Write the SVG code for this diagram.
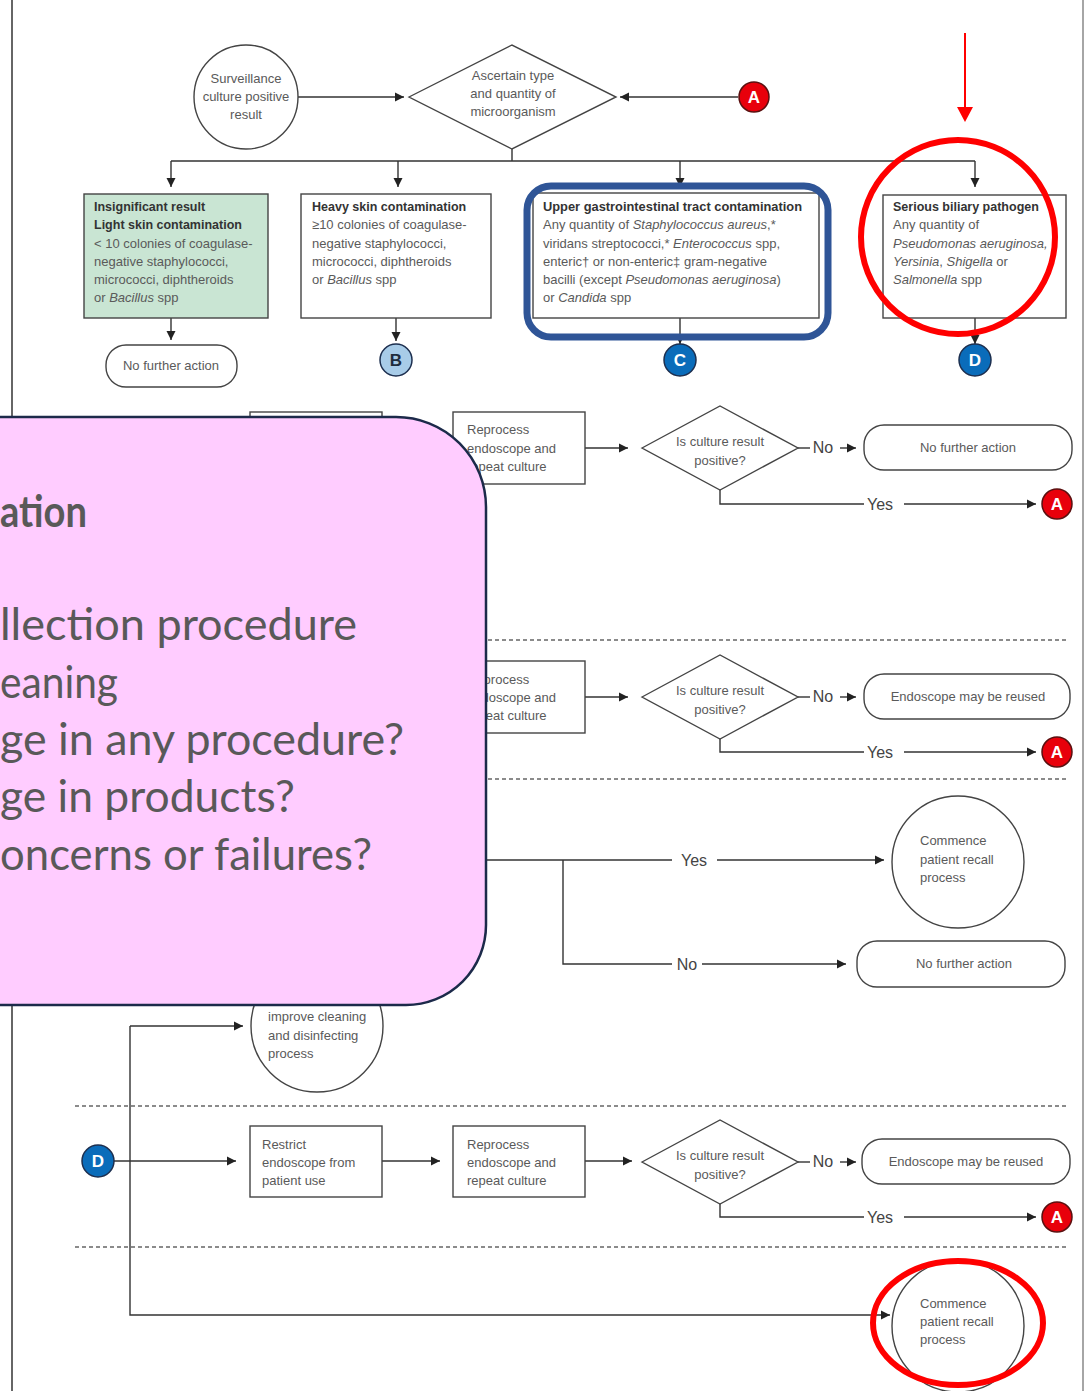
<svg xmlns="http://www.w3.org/2000/svg" width="1089" height="1391" viewBox="0 0 1089 1391">
  <defs>
    <marker id="arr" viewBox="0 0 10 10" refX="10" refY="5" markerWidth="9" markerHeight="10" markerUnits="userSpaceOnUse" orient="auto">
      <path d="M0,0 L10,5 L0,10 z" fill="#222"/>
    </marker>
    <style>
      .ln { fill: none; stroke: #333; stroke-width: 1.4; }
      .box { fill: #fff; stroke: #444; stroke-width: 1.4; }
      .dash { fill: none; stroke: #666; stroke-width: 1.3; stroke-dasharray: 4 3; }
      .t { font-family: "Liberation Sans", Arial, sans-serif; font-size: 13px; fill: #5a5a5a; }
      .tb { font-family: "Liberation Sans", Arial, sans-serif; font-size: 12.5px; font-weight: bold; fill: #333; }
      .tc { font-family: "Liberation Sans", Arial, sans-serif; font-size: 13px; fill: #5a5a5a; text-anchor: middle; }
      .lbl { font-family: "Liberation Sans", Arial, sans-serif; font-size: 16px; fill: #444; text-anchor: middle; }
      .i { font-style: italic; }
      .letter { font-family: "Liberation Sans", Arial, sans-serif; font-size: 17px; font-weight: bold; text-anchor: middle; }
      .red { fill: #e8000b; stroke: #5a1010; stroke-width: 1.5; }
      .blue { fill: #0a6cba; stroke: #1d2f4f; stroke-width: 1.5; }
      .light { fill: #a8cce8; stroke: #1d2f4f; stroke-width: 1.5; }
      .big { font-family: Lato, "Open Sans", sans-serif; font-size: 44px; fill: #595959; }
    </style>
  </defs>

  <rect x="0" y="0" width="1089" height="1391" fill="#fff"/>

  <!-- page frame -->
  <line x1="12" y1="0" x2="12" y2="1391" stroke="#333" stroke-width="1.5"/>
  <line x1="1083" y1="0" x2="1083" y2="1391" stroke="#888" stroke-width="1.5"/>

  <!-- section separators -->
  <g id="separators">
    <line class="dash" x1="75" y1="640" x2="1068" y2="640"/>
    <line class="dash" x1="75" y1="779" x2="1068" y2="779"/>
    <line class="dash" x1="75" y1="1106" x2="1068" y2="1106"/>
    <line class="dash" x1="75" y1="1247" x2="1068" y2="1247"/>
  </g>

  <!-- connectors -->
  <g id="connectors">
    <path class="ln" d="M298,97 H404" marker-end="url(#arr)"/>
    <path class="ln" d="M738,97 H620" marker-end="url(#arr)"/>
    <path class="ln" d="M512,149 V161 M171,161 H975"/>
    <path class="ln" d="M171,161 V187" marker-end="url(#arr)"/>
    <path class="ln" d="M398,161 V187" marker-end="url(#arr)"/>
    <path class="ln" d="M680,161 V187" marker-end="url(#arr)"/>
    <path class="ln" d="M975,161 V187" marker-end="url(#arr)"/>
    <path class="ln" d="M171,318 V340" marker-end="url(#arr)"/>
    <path class="ln" d="M396,318 V341" marker-end="url(#arr)"/>
    <path class="ln" d="M680,318 V344" marker-end="url(#arr)"/>
    <path class="ln" d="M975,318 V344" marker-end="url(#arr)"/>

    <!-- B row -->
    <path class="ln" d="M382,448 H440" marker-end="url(#arr)"/>
    <path class="ln" d="M585,448 H628" marker-end="url(#arr)"/>
    <path class="ln" d="M798,448 H810"/>
    <path class="ln" d="M840,448 H856" marker-end="url(#arr)"/>
    <path class="ln" d="M720,490 V504 H864"/>
    <path class="ln" d="M904,504 H1036" marker-end="url(#arr)"/>

    <!-- C row -->
    <path class="ln" d="M585,697 H628" marker-end="url(#arr)"/>
    <path class="ln" d="M798,697 H810"/>
    <path class="ln" d="M840,697 H856" marker-end="url(#arr)"/>
    <path class="ln" d="M720,739 V752 H864"/>
    <path class="ln" d="M904,752 H1036" marker-end="url(#arr)"/>

    <!-- recall decision -->
    <path class="ln" d="M440,860 H672"/>
    <path class="ln" d="M717,860 H884" marker-end="url(#arr)"/>
    <path class="ln" d="M563,860 V964 H672"/>
    <path class="ln" d="M702,964 H846" marker-end="url(#arr)"/>

    <!-- D row -->
    <path class="ln" d="M130,1026 H243" marker-end="url(#arr)"/>
    <path class="ln" d="M130,1026 V1315 H890" marker-end="url(#arr)"/>
    <path class="ln" d="M114,1161 H236" marker-end="url(#arr)"/>
    <path class="ln" d="M382,1161 H440" marker-end="url(#arr)"/>
    <path class="ln" d="M585,1161 H632" marker-end="url(#arr)"/>
    <path class="ln" d="M798,1162 H810"/>
    <path class="ln" d="M840,1162 H856" marker-end="url(#arr)"/>
    <path class="ln" d="M720,1204 V1217 H864"/>
    <path class="ln" d="M904,1217 H1036" marker-end="url(#arr)"/>
  </g>

  <!-- branch labels -->
  <g id="labels">
    <text class="lbl" x="823" y="453">No</text>
    <text class="lbl" x="880" y="510">Yes</text>
    <text class="lbl" x="823" y="702">No</text>
    <text class="lbl" x="880" y="758">Yes</text>
    <text class="lbl" x="694" y="866">Yes</text>
    <text class="lbl" x="687" y="970">No</text>
    <text class="lbl" x="823" y="1167">No</text>
    <text class="lbl" x="880" y="1223">Yes</text>
  </g>

  <!-- top row -->
  <g id="surveillance">
    <circle cx="246" cy="97" r="52" class="box"/>
    <text class="tc" x="246" y="83">Surveillance</text>
    <text class="tc" x="246" y="101">culture positive</text>
    <text class="tc" x="246" y="119">result</text>
  </g>
  <g id="ascertain">
    <polygon class="box" points="409,97 512,45 616,97 512,149"/>
    <text class="tc" x="513" y="80">Ascertain type</text>
    <text class="tc" x="513" y="98">and quantity of</text>
    <text class="tc" x="513" y="116">microorganism</text>
  </g>
  <g id="a-top">
    <circle class="red" cx="754" cy="97" r="15"/>
    <text class="letter" x="754" y="103" fill="#fff">A</text>
  </g>

  <g id="insignificant">
    <rect x="84" y="194" width="184" height="124" fill="#c9e5d3" stroke="#444" stroke-width="1.4"/>
    <text class="tb" x="94" y="211">Insignificant result</text>
    <text class="tb" x="94" y="229">Light skin contamination</text>
    <text class="t" x="94" y="248">&lt; 10 colonies of coagulase-</text>
    <text class="t" x="94" y="266">negative staphylococci,</text>
    <text class="t" x="94" y="284">micrococci, diphtheroids</text>
    <text class="t" x="94" y="302">or <tspan class="i">Bacillus</tspan> spp</text>
  </g>
  <g id="heavy">
    <rect class="box" x="301" y="194" width="190" height="124"/>
    <text class="tb" x="312" y="211">Heavy skin contamination</text>
    <text class="t" x="312" y="229">≥10 colonies of coagulase-</text>
    <text class="t" x="312" y="248">negative staphylococci,</text>
    <text class="t" x="312" y="266">micrococci, diphtheroids</text>
    <text class="t" x="312" y="284">or <tspan class="i">Bacillus</tspan> spp</text>
  </g>
  <g id="upper-gi">
    <rect class="box" x="533" y="193" width="286" height="125"/>
    <text class="tb" x="543" y="211" textLength="259" lengthAdjust="spacingAndGlyphs">Upper gastrointestinal tract contamination</text>
    <text class="t" x="543" y="229">Any quantity of <tspan class="i">Staphylococcus aureus</tspan>,*</text>
    <text class="t" x="543" y="248">viridans streptococci,* <tspan class="i">Enterococcus</tspan> spp,</text>
    <text class="t" x="543" y="266">enteric† or non-enteric‡ gram-negative</text>
    <text class="t" x="543" y="284">bacilli (except <tspan class="i">Pseudomonas aeruginosa</tspan>)</text>
    <text class="t" x="543" y="302">or <tspan class="i">Candida</tspan> spp</text>
  </g>
  <g id="biliary">
    <rect class="box" x="883" y="195" width="183" height="123"/>
    <text class="tb" x="893" y="211">Serious biliary pathogen</text>
    <text class="t" x="893" y="229">Any quantity of</text>
    <text class="t i" x="893" y="248">Pseudomonas aeruginosa,</text>
    <text class="t" x="893" y="266"><tspan class="i">Yersinia</tspan>, <tspan class="i">Shigella</tspan> or</text>
    <text class="t" x="893" y="284"><tspan class="i">Salmonella</tspan> spp</text>
  </g>

  <g id="nfa-top">
    <rect class="box" x="106" y="345" width="131" height="42" rx="20"/>
    <text class="tc" x="171" y="370">No further action</text>
  </g>
  <g id="b-top">
    <circle class="light" cx="396" cy="360" r="16"/>
    <text class="letter" x="396" y="366" fill="#1f2d3d">B</text>
  </g>
  <g id="c-top">
    <circle class="blue" cx="680" cy="360" r="16"/>
    <text class="letter" x="680" y="366" fill="#fff">C</text>
  </g>
  <g id="d-top">
    <circle class="blue" cx="975" cy="360" r="16"/>
    <text class="letter" x="975" y="366" fill="#fff">D</text>
  </g>

  <!-- B row -->
  <g id="b-restrict">
    <rect class="box" x="250" y="412" width="132" height="72"/>
  </g>
  <g id="b-reprocess">
    <rect class="box" x="453" y="412" width="132" height="72"/>
    <text class="t" x="467" y="434">Reprocess</text>
    <text class="t" x="467" y="453">endoscope and</text>
    <text class="t" x="467" y="471">repeat culture</text>
  </g>
  <g id="b-check">
    <polygon class="box" points="642,448 720,406 798,448 720,490"/>
    <text class="tc" x="720" y="446">Is culture result</text>
    <text class="tc" x="720" y="465">positive?</text>
  </g>
  <g id="b-nfa">
    <rect class="box" x="864" y="425" width="208" height="45" rx="20"/>
    <text class="tc" x="968" y="452">No further action</text>
  </g>
  <g id="b-a">
    <circle class="red" cx="1057" cy="504" r="15"/>
    <text class="letter" x="1057" y="510" fill="#fff">A</text>
  </g>

  <!-- C row -->
  <g id="c-reprocess">
    <rect class="box" x="453" y="661" width="132" height="72"/>
    <text class="t" x="467" y="684">Reprocess</text>
    <text class="t" x="467" y="702">endoscope and</text>
    <text class="t" x="467" y="720">repeat culture</text>
  </g>
  <g id="c-check">
    <polygon class="box" points="642,697 720,655 798,697 720,739"/>
    <text class="tc" x="720" y="695">Is culture result</text>
    <text class="tc" x="720" y="714">positive?</text>
  </g>
  <g id="c-reuse">
    <rect class="box" x="864" y="674" width="206" height="45" rx="20"/>
    <text class="tc" x="968" y="701">Endoscope may be reused</text>
  </g>
  <g id="c-a">
    <circle class="red" cx="1057" cy="752" r="15"/>
    <text class="letter" x="1057" y="758" fill="#fff">A</text>
  </g>

  <!-- recall decision -->
  <g id="recall-1">
    <ellipse class="box" cx="958" cy="862" rx="66" ry="66"/>
    <text class="t" x="920" y="845">Commence</text>
    <text class="t" x="920" y="864">patient recall</text>
    <text class="t" x="920" y="882">process</text>
  </g>
  <g id="nfa-recall">
    <rect class="box" x="857" y="941" width="208" height="46" rx="20"/>
    <text class="tc" x="964" y="968">No further action</text>
  </g>
  <g id="improve">
    <circle class="box" cx="317" cy="1026" r="66"/>
    <text class="t" x="268" y="1021">improve cleaning</text>
    <text class="t" x="268" y="1040">and disinfecting</text>
    <text class="t" x="268" y="1058">process</text>
  </g>

  <!-- D row -->
  <g id="d-start">
    <circle class="blue" cx="98" cy="1161" r="16"/>
    <text class="letter" x="98" y="1167" fill="#fff">D</text>
  </g>
  <g id="d-restrict">
    <rect class="box" x="250" y="1126" width="132" height="71"/>
    <text class="t" x="262" y="1149">Restrict</text>
    <text class="t" x="262" y="1167">endoscope from</text>
    <text class="t" x="262" y="1185">patient use</text>
  </g>
  <g id="d-reprocess">
    <rect class="box" x="453" y="1126" width="132" height="71"/>
    <text class="t" x="467" y="1149">Reprocess</text>
    <text class="t" x="467" y="1167">endoscope and</text>
    <text class="t" x="467" y="1185">repeat culture</text>
  </g>
  <g id="d-check">
    <polygon class="box" points="642,1162 720,1120 798,1162 720,1204"/>
    <text class="tc" x="720" y="1160">Is culture result</text>
    <text class="tc" x="720" y="1179">positive?</text>
  </g>
  <g id="d-reuse">
    <rect class="box" x="862" y="1139" width="208" height="45" rx="20"/>
    <text class="tc" x="966" y="1166">Endoscope may be reused</text>
  </g>
  <g id="d-a">
    <circle class="red" cx="1057" cy="1217" r="15"/>
    <text class="letter" x="1057" y="1223" fill="#fff">A</text>
  </g>
  <g id="recall-2">
    <ellipse class="box" cx="958" cy="1326" rx="66" ry="66"/>
    <text class="t" x="920" y="1308">Commence</text>
    <text class="t" x="920" y="1326">patient recall</text>
    <text class="t" x="920" y="1344">process</text>
  </g>

  <!-- highlight marks -->
  <g id="highlights">
    <rect x="527" y="186" width="301" height="151" rx="24" fill="none" stroke="#2f5597" stroke-width="7"/>
    <ellipse cx="958" cy="237" rx="97" ry="97" fill="none" stroke="#f00" stroke-width="6"/>
    <ellipse cx="958" cy="1323" rx="85" ry="62" fill="none" stroke="#f00" stroke-width="6"/>
    <line x1="965" y1="33" x2="965" y2="108" stroke="#f00" stroke-width="2"/>
    <polygon points="957,107 973,107 965,122" fill="#f00"/>
  </g>

  <!-- callout panel -->
  <g id="callout">
    <path d="M-20,417 H396 A90,90 0 0 1 486,507 V925 A80,80 0 0 1 406,1005 H-20 Z" fill="#ffccff" stroke="#1c2a4a" stroke-width="2.5"/>
    <text class="big" x="0" y="527" font-weight="bold" textLength="87" lengthAdjust="spacingAndGlyphs">ation</text>
    <text class="big" x="0" y="640" textLength="357" lengthAdjust="spacingAndGlyphs">llection procedure</text>
    <text class="big" x="0" y="698" textLength="118" lengthAdjust="spacingAndGlyphs">eaning</text>
    <text class="big" x="0" y="755" textLength="404" lengthAdjust="spacingAndGlyphs">ge in any procedure?</text>
    <text class="big" x="0" y="812" textLength="295" lengthAdjust="spacingAndGlyphs">ge in products?</text>
    <text class="big" x="0" y="870" textLength="372" lengthAdjust="spacingAndGlyphs">oncerns or failures?</text>
  </g>
</svg>
